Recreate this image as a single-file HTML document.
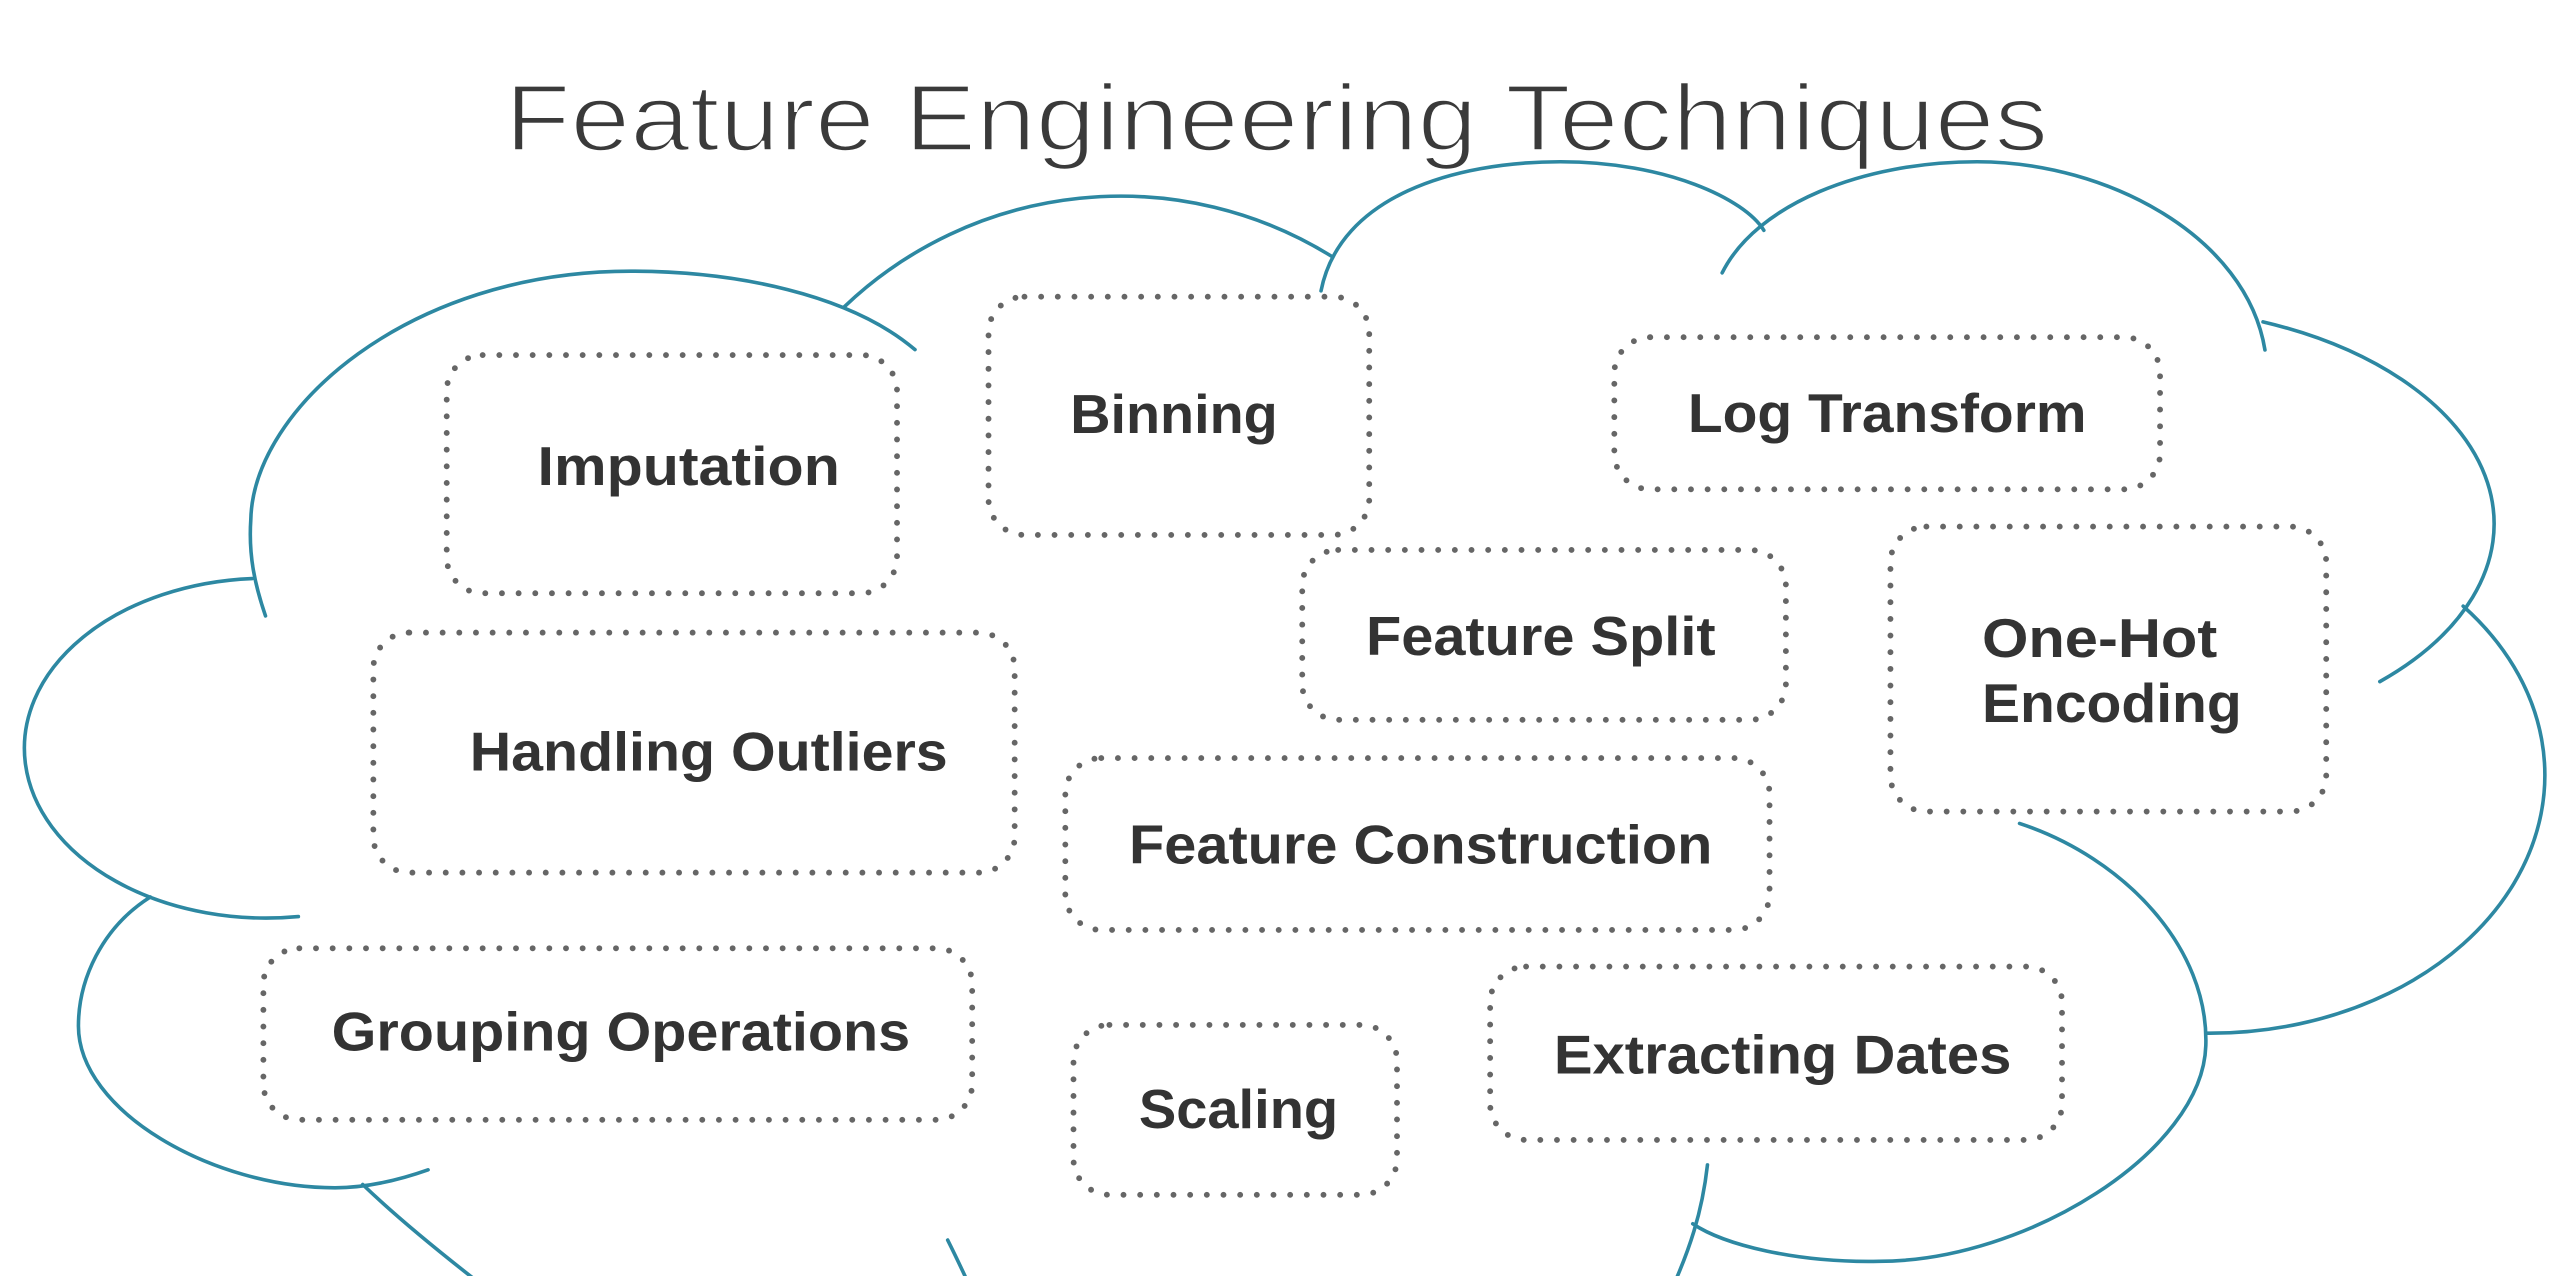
<!DOCTYPE html>
<html>
<head>
<meta charset="utf-8">
<style>
  html, body { margin: 0; padding: 0; background: #ffffff; }
  body { width: 2562px; height: 1276px; overflow: hidden; }
  svg { display: block; }
  .cloud { fill: none; stroke: #2d88a2; stroke-width: 2.2; stroke-linecap: round; stroke-linejoin: round; }
  .box { fill: none; stroke: #666666; stroke-width: 3.6; stroke-linecap: round; stroke-dasharray: 0 10.2; }
  .lbl { font-family: "Liberation Sans", "DejaVu Sans", sans-serif; font-weight: bold; font-size: 33.5px; fill: #333333; }
  .title { font-family: "Liberation Sans", "DejaVu Sans", sans-serif; font-weight: normal; font-size: 58.1px; fill: #3a3a3a; stroke: #ffffff; stroke-width: 1.6; }
</style>
</head>
<body>
<svg width="2562" height="1276" viewBox="0 0 1568 781" preserveAspectRatio="none" xmlns="http://www.w3.org/2000/svg">
  <rect x="0" y="0" width="1568" height="781" fill="#ffffff"/>

  <!-- Title -->
  <text class="title" x="309" y="92.2" textLength="944.5" lengthAdjust="spacingAndGlyphs">Feature Engineering Techniques</text>

  <!-- Cloud outline -->
  <path class="cloud" d="M162.5 377 C156 358 152 340 153.5 318 C155 250 250 166 386 166 C450 166 520 180 560 214"/>
  <path class="cloud" d="M516.8 187.7 A245 245 0 0 1 815.2 157"/>
  <path class="cloud" d="M808.5 178 C820 120 890 99 955 99 C1020 99 1068 122 1079.5 141"/>
  <path class="cloud" d="M1054 167 C1075 125 1140 99 1210 99 C1290 99 1375 145 1386.2 214.2"/>
  <path class="cloud" d="M1385 197 A224 133 0 0 1 1456.5 417.2"/>
  <path class="cloud" d="M1507.5 371 A205 158 0 0 1 1350.5 632.4"/>
  <path class="cloud" d="M1036 749 C1055 762 1100 773 1150 772 C1240 772 1348 705 1350 640 C1352 580 1300 525 1236 504"/>
  <path class="cloud" d="M1045 713 C1042 740 1035 765 1018 800"/>
  <path class="cloud" d="M580 759 Q588 775 597 795"/>
  <path class="cloud" d="M222 725 Q250 752 302 792"/>
  <path class="cloud" d="M92 549 C62 568 48 600 48 628 C48 680 130 727 205 727 C225 727 245 722 262 716"/>
  <path class="cloud" d="M154.3 354.1 A148 104 0 1 0 182.6 561"/>

  <!-- Dotted boxes -->
  <rect class="box" x="273.4" y="217.3" width="275.6" height="145.8" rx="22" ry="22"/>
  <rect class="box" x="605" y="181.6" width="233" height="145.8" rx="22" ry="22"/>
  <rect class="box" x="988" y="206.4" width="334" height="93.1" rx="22" ry="22"/>
  <rect class="box" x="797" y="336.6" width="296" height="104" rx="22" ry="22"/>
  <rect class="box" x="1157" y="322.3" width="266.7" height="174.4" rx="22" ry="22"/>
  <rect class="box" x="228.5" y="387.2" width="392.5" height="146.9" rx="22" ry="22"/>
  <rect class="box" x="652" y="464" width="431" height="105.2" rx="22" ry="22"/>
  <rect class="box" x="161.2" y="580.4" width="433.8" height="105" rx="22" ry="22"/>
  <rect class="box" x="657" y="627.3" width="198" height="104" rx="22" ry="22"/>
  <rect class="box" x="912" y="591.6" width="350" height="106.1" rx="22" ry="22"/>

  <!-- Labels -->
  <text class="lbl" x="329" y="297" textLength="185" lengthAdjust="spacingAndGlyphs">Imputation</text>
  <text class="lbl" x="655" y="265" textLength="127" lengthAdjust="spacingAndGlyphs">Binning</text>
  <text class="lbl" x="1033" y="264.5" textLength="244" lengthAdjust="spacingAndGlyphs">Log Transform</text>
  <text class="lbl" x="836" y="401" textLength="214" lengthAdjust="spacingAndGlyphs">Feature Split</text>
  <text class="lbl" x="1213" y="402" textLength="144" lengthAdjust="spacingAndGlyphs">One-Hot</text>
  <text class="lbl" x="1213" y="442" textLength="159" lengthAdjust="spacingAndGlyphs">Encoding</text>
  <text class="lbl" x="287.5" y="471.6" textLength="292.5" lengthAdjust="spacingAndGlyphs">Handling Outliers</text>
  <text class="lbl" x="691" y="528.4" textLength="357" lengthAdjust="spacingAndGlyphs">Feature Construction</text>
  <text class="lbl" x="203" y="643" textLength="354" lengthAdjust="spacingAndGlyphs">Grouping Operations</text>
  <text class="lbl" x="697" y="690.5" textLength="122" lengthAdjust="spacingAndGlyphs">Scaling</text>
  <text class="lbl" x="951" y="657" textLength="280" lengthAdjust="spacingAndGlyphs">Extracting Dates</text>
</svg>
</body>
</html>
